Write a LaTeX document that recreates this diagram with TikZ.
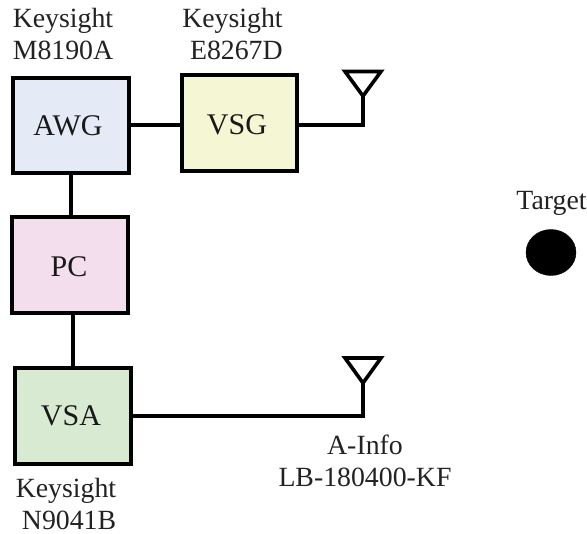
\documentclass[tikz,border=0pt]{standalone}
\usepackage{fontspec}
\usetikzlibrary{shapes.geometric}
\setmainfont{Liberation Serif}
\definecolor{awgc}{HTML}{E4EBF7}
\definecolor{vsgc}{HTML}{F5F6D3}
\definecolor{pcc}{HTML}{F3DEEE}
\definecolor{vsac}{HTML}{D8EBD2}
\definecolor{ink}{HTML}{222222}
\tikzset{x=1pt,y=-1pt,
 box/.style={draw=black,line width=4pt,inner sep=0pt},
 boxtext/.style={inner sep=0pt,anchor=base,font=\fontsize{30}{32}\selectfont,text=black!90},
 lab/.style={font=\fontsize{27.8}{32}\selectfont,inner sep=0pt,text=ink},
 wire/.style={line width=3.8pt},
 horn/.style={line width=3.6pt,line join=miter}}
\begin{document}
\begin{tikzpicture}
\useasboundingbox (0,0) rectangle (587,534);
\node[box,fill=awgc,minimum width=116pt,minimum height=95pt] (awg) at (71,125.5) {};
\node[box,fill=vsgc,minimum width=115pt,minimum height=96pt] (vsg) at (239.5,123) {};
\node[box,fill=pcc,minimum width=116pt,minimum height=96pt] (pc) at (70,265) {};
\node[box,fill=vsac,minimum width=116pt,minimum height=96pt] (vsa) at (73,416) {};
\node[boxtext] (awgt) at (68,136) {AWG};
\node[boxtext] (vsgt) at (237,135) {VSG};
\node[boxtext] (pct) at (69,277) {PC};
\node[boxtext] (vsat) at (71,426) {VSA};
\coordinate (h1) at (0,125);
\coordinate (v1) at (71,0);
\coordinate (v2) at (73,0);
\draw[wire] (awg.east |- h1) -- (vsg.west |- h1);
\draw[wire] (v1 |- awg.south) -- (v1 |- pc.north);
\draw[wire] (v2 |- pc.south) -- (v2 |- vsa.north);
\coordinate (a1) at (363,125);
\coordinate (a1t) at (363,96);
\coordinate (a1l) at (345,71.5);
\coordinate (a1r) at (381,71.5);
\draw[wire] (vsg.east |- a1) -- (a1) -- (a1t);
\draw[horn] (a1t) -- (a1l) -- (a1r) -- cycle;
\coordinate (a2) at (363,416);
\coordinate (a2t) at (363,383);
\coordinate (a2l) at (345,358);
\coordinate (a2r) at (381,358);
\draw[wire] (vsa.east |- a2) -- (a2) -- (a2t);
\draw[horn] (a2t) -- (a2l) -- (a2r) -- cycle;
\node[draw=black,fill=black,ellipse,minimum width=50pt,minimum height=46pt,inner sep=0pt] (tgt) at (551,252.5) {};
\node[lab,align=center,anchor=base] (t1) at (63,60) {Keysight\\M8190A};
\node[lab,align=right,anchor=base] (t2) at (232.5,60) {Keysight\\E8267D};
\node[lab,align=right,anchor=base] (t3) at (66,529.5) {Keysight\\N9041B};
\node[lab,align=center,anchor=base] (t4) at (365,487) {A-Info\\LB-180400-KF};
\node[lab,anchor=base] (t5) at (551.5,210) {Target};
\end{tikzpicture}
\end{document}
